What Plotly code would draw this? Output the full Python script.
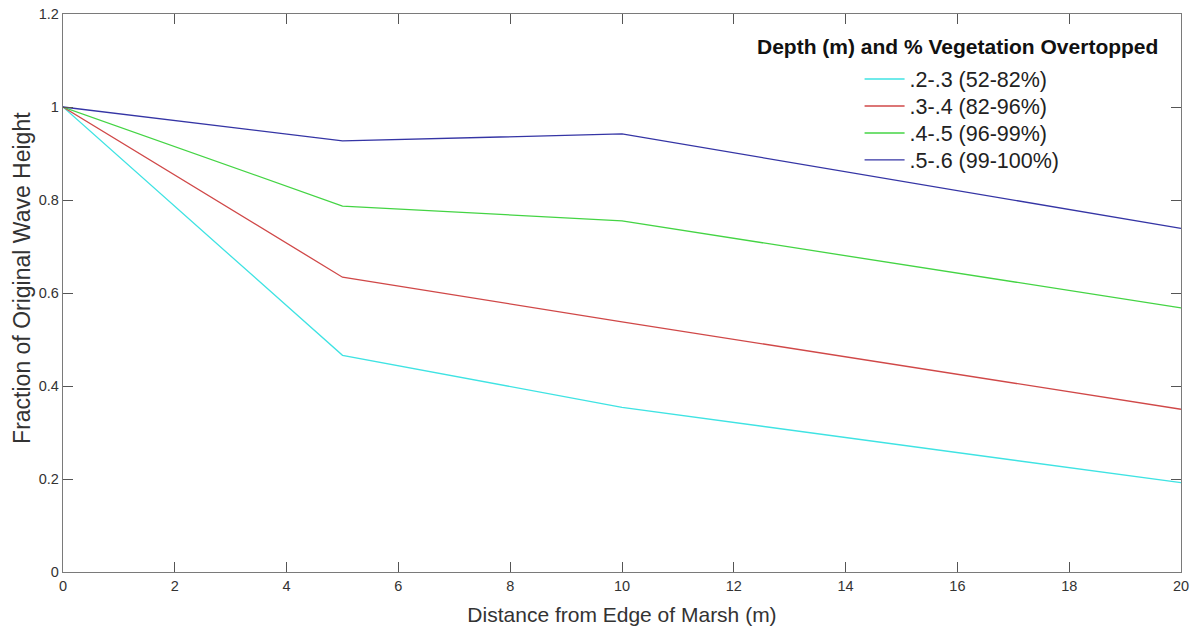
import plotly.graph_objects as go

distance = [0, 5, 10, 20]
series_names = [".2-.3 (52-82%)", ".3-.4 (82-96%)", ".4-.5 (96-99%)", ".5-.6 (99-100%)"]
depth_02_03 = [1.0, 0.466, 0.354, 0.192]
depth_03_04 = [1.0, 0.634, 0.538, 0.350]
depth_04_05 = [1.0, 0.787, 0.755, 0.568]
depth_05_06 = [1.0, 0.927, 0.942, 0.739]
colors = ["#3fe3e3", "#d04848", "#44d444", "#3535a5"]

font_fam = "Liberation Sans, Arial, sans-serif"
legend_ids = ["legend", "legend2", "legend3", "legend4"]
legend_y = [0.8835, 0.8351, 0.7867, 0.7384]

fig = go.Figure()
for name, ys, c, lid in zip(series_names, [depth_02_03, depth_03_04, depth_04_05, depth_05_06], colors, legend_ids):
    fig.add_trace(go.Scatter(x=distance, y=ys, mode="lines", name=name, legend=lid,
                             line=dict(color=c, width=1.3)))

axis_common = dict(showgrid=False, zeroline=False, showline=True, linecolor="#7a7a7a",
                   linewidth=1.3, mirror="ticks", ticks="inside", ticklen=10,
                   tickcolor="#555555", tickwidth=1, automargin=False,
                   tickfont=dict(family=font_fam, size=14.5, color="#333333"))

legend_layout = {}
for lid, ly in zip(legend_ids, legend_y):
    legend_layout[lid] = dict(x=0.7125, y=ly, xanchor="left", yanchor="middle",
                              bgcolor="rgba(0,0,0,0)", borderwidth=0,
                              font=dict(family=font_fam, size=21.5, color="#222222"),
                              itemwidth=40)

fig.update_layout(
    width=1196, height=630,
    margin=dict(l=63, r=15, t=14, b=58),
    paper_bgcolor="white", plot_bgcolor="white",
    font=dict(family=font_fam, color="#262626"),
    xaxis=dict(range=[0, 20], dtick=2, tick0=0,
               title=dict(text="Distance from Edge of Marsh (m)", font=dict(size=21, color="#333333"), standoff=14),
               **axis_common),
    yaxis=dict(range=[0, 1.2], dtick=0.2, tick0=0, **axis_common),
    annotations=[
        dict(text="<b>Depth (m) and % Vegetation Overtopped</b>", xref="paper", yref="paper",
             x=0.981, y=0.966, xanchor="right", yanchor="top", showarrow=False,
             font=dict(family=font_fam, size=21, color="#111111")),
        dict(text="Fraction of Original Wave Height", xref="paper", yref="paper",
             x=-0.0367, y=0.527, xanchor="center", yanchor="middle", textangle=-90,
             showarrow=False, font=dict(family=font_fam, size=23, color="#333333")),
    ],
    showlegend=True,
    **legend_layout,
)

fig.write_html("out.html")
